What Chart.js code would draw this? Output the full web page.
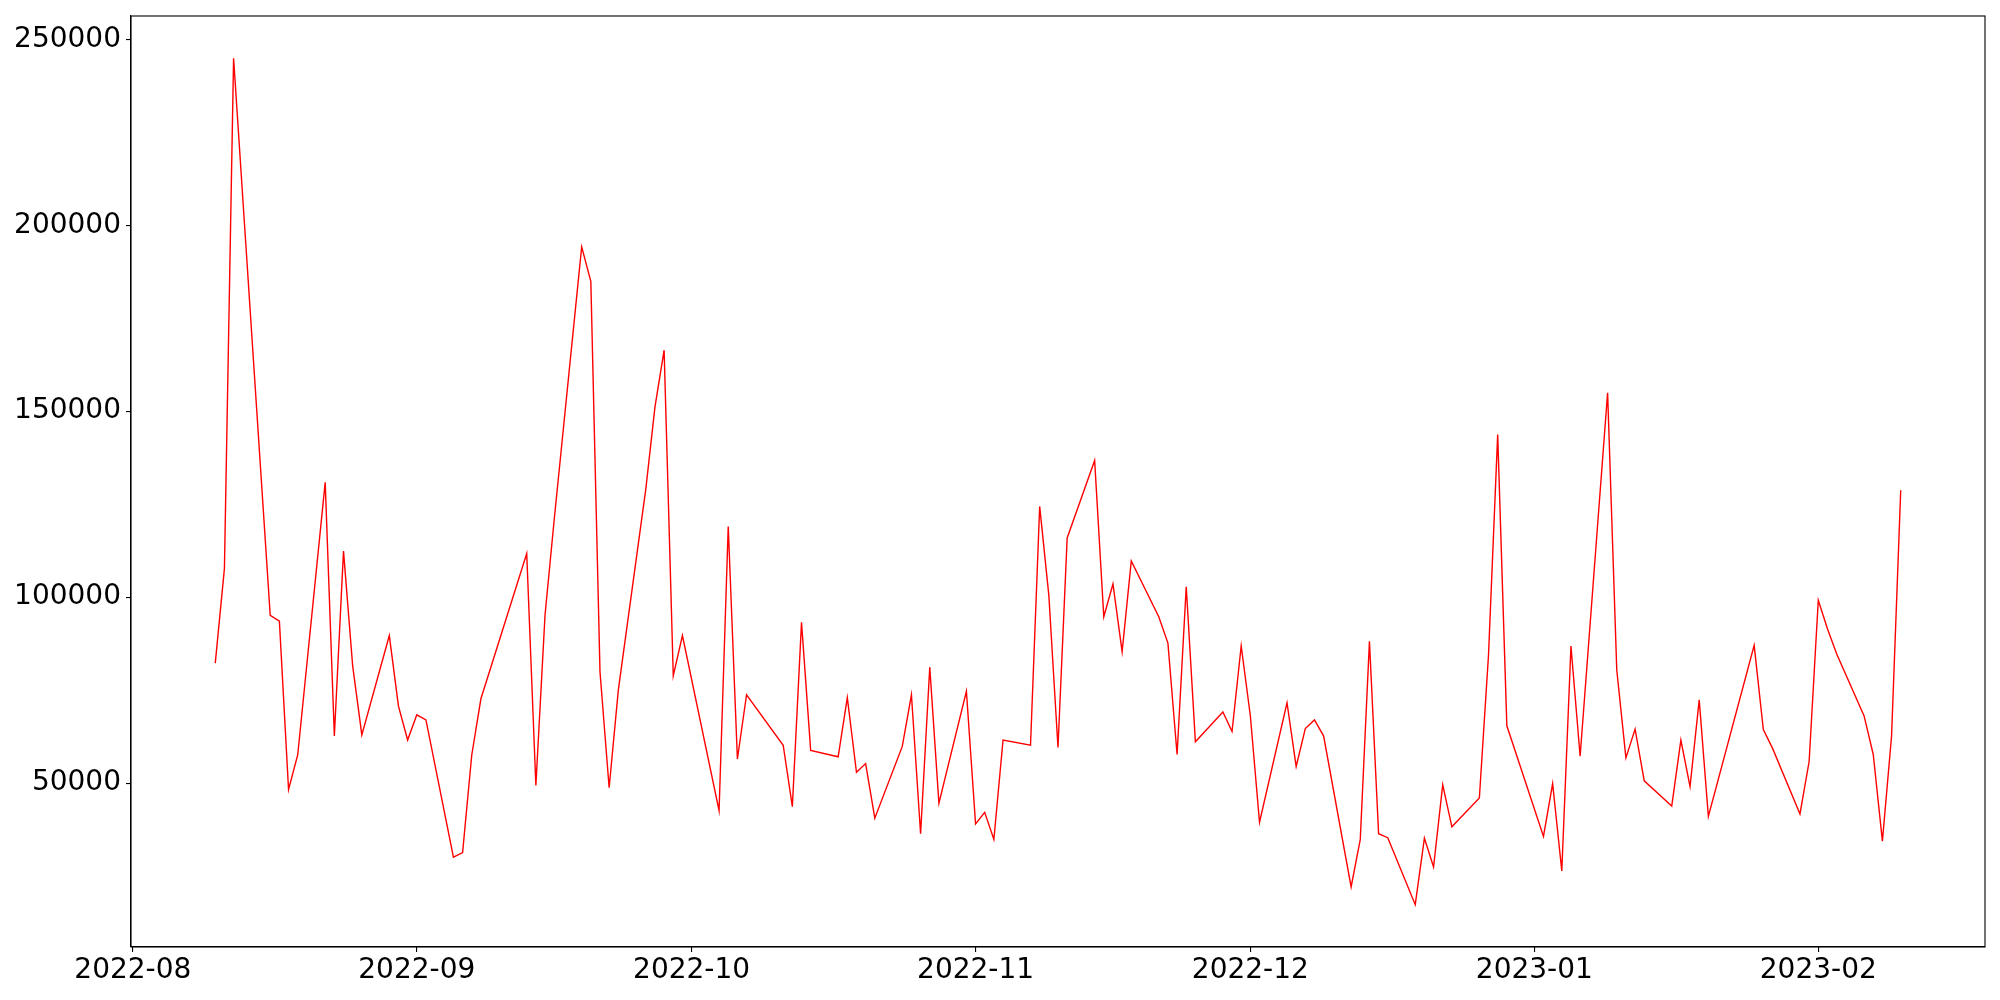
<!DOCTYPE html>
<html lang="en">

<head>
  <meta charset="utf-8">
  <title>Daily series</title>
  <script src="https://cdn.jsdelivr.net/npm/chart.js@4.4.1/dist/chart.umd.min.js"></script>
  <style>
    html, body { margin: 0; padding: 0; background: #fff; }
    #wrap { width: 2000px; height: 1000px; }
  </style>
</head>

<body>
  <div id="wrap"><canvas id="myChart" width="2000" height="1000"></canvas></div>

  <script>
    // trading days and values
    var dates = [
      '2022-08-10', '2022-08-11', '2022-08-12', '2022-08-16', '2022-08-17', '2022-08-18', '2022-08-19',
      '2022-08-22', '2022-08-23', '2022-08-24', '2022-08-25', '2022-08-26', '2022-08-29', '2022-08-30',
      '2022-08-31', '2022-09-01', '2022-09-02', '2022-09-05', '2022-09-06', '2022-09-07', '2022-09-08',
      '2022-09-13', '2022-09-14', '2022-09-15', '2022-09-16', '2022-09-19', '2022-09-20', '2022-09-21',
      '2022-09-22', '2022-09-23', '2022-09-26', '2022-09-27', '2022-09-28', '2022-09-29', '2022-09-30',
      '2022-10-04', '2022-10-05', '2022-10-06', '2022-10-07', '2022-10-11', '2022-10-12', '2022-10-13',
      '2022-10-14', '2022-10-17', '2022-10-18', '2022-10-19', '2022-10-20', '2022-10-21', '2022-10-24',
      '2022-10-25', '2022-10-26', '2022-10-27', '2022-10-28', '2022-10-31', '2022-11-01', '2022-11-02',
      '2022-11-03', '2022-11-04', '2022-11-07', '2022-11-08', '2022-11-09', '2022-11-10', '2022-11-11',
      '2022-11-14', '2022-11-15', '2022-11-16', '2022-11-17', '2022-11-18', '2022-11-21', '2022-11-22',
      '2022-11-23', '2022-11-24', '2022-11-25', '2022-11-28', '2022-11-29', '2022-11-30', '2022-12-01',
      '2022-12-02', '2022-12-05', '2022-12-06', '2022-12-07', '2022-12-08', '2022-12-09', '2022-12-12',
      '2022-12-13', '2022-12-14', '2022-12-15', '2022-12-16', '2022-12-19', '2022-12-20', '2022-12-21',
      '2022-12-22', '2022-12-23', '2022-12-26', '2022-12-27', '2022-12-28', '2022-12-29', '2023-01-02',
      '2023-01-03', '2023-01-04', '2023-01-05', '2023-01-06', '2023-01-09', '2023-01-10', '2023-01-11',
      '2023-01-12', '2023-01-13', '2023-01-16', '2023-01-17', '2023-01-18', '2023-01-19', '2023-01-20',
      '2023-01-25', '2023-01-26', '2023-01-27', '2023-01-30', '2023-01-31', '2023-02-01', '2023-02-02',
      '2023-02-03', '2023-02-06', '2023-02-07', '2023-02-08', '2023-02-09', '2023-02-10'
    ];
    var values = [
      82250, 107720, 244900, 95080, 93520, 48280, 57560,
      130880, 62670, 112370, 81500, 62940, 89670, 70680,
      61570, 68370, 66970, 30070, 31310, 57560, 72670,
      111750, 49360, 95200, 120800, 194200, 184900, 79940,
      48740, 74990, 129050, 151100, 166410, 78860, 89670,
      42580, 118990, 56480, 73750, 60170, 43650, 93220,
      58800, 57070, 73000, 52910, 55250, 40560, 59870,
      73750, 36390, 81170, 44590, 74690, 39030, 42120,
      34860, 61570, 60170, 124400, 100480, 59550, 115920,
      136770, 94750, 103550, 85340, 109740, 94750, 87650,
      57690, 102800, 61110, 69120, 63880, 86870, 68050,
      39480, 71600, 54470, 64660, 66970, 62650, 22060,
      34860, 88110, 36390, 35320, 17300, 35160, 27430,
      49520, 38250, 45970, 84500, 143710, 65410, 35640,
      49840, 26360, 86870, 57230, 154980, 80420, 56780,
      64500, 50590, 43810, 61570, 49060, 72380, 41020,
      87040, 64400, 59400, 41700, 55800, 99150, 91500,
      84800, 68050, 57690, 34400, 62650, 128730
    ];
    var monthTicks = ['2022-08', '2022-09', '2022-10', '2022-11', '2022-12', '2023-01', '2023-02'];
    var yTicks = [50000, 100000, 150000, 200000, 250000];

    function toMs(s) {
      var p = s.split('-');
      return Date.UTC(+p[0], +p[1] - 1, p[2] ? +p[2] : 1);
    }

    var points = [];
    for (var i = 0; i < dates.length; i++) {
      points.push({ x: toMs(dates[i]), y: values[i] });
    }

    // 5% margins like the original plot
    var xMin = points[0].x, xMax = points[points.length - 1].x;
    var xPad = (xMax - xMin) * 0.05;
    var yMin = Math.min.apply(null, values), yMax = Math.max.apply(null, values);
    var yPad = (yMax - yMin) * 0.05;

    var font = { family: 'DejaVu Sans', size: 28 };

    // box around the plot area
    const frame = {
      id: 'frame',
      afterDraw(chart) {
        var a = chart.chartArea, ctx = chart.ctx;
        ctx.save();
        ctx.strokeStyle = '#000';
        ctx.lineWidth = 1.1;
        ctx.strokeRect(a.left, a.top, a.right - a.left, a.bottom - a.top);
        ctx.restore();
      }
    };

    var ctx = document.getElementById('myChart');
    var myChart = new Chart(ctx, {
      type: 'line',
      data: {
        datasets: [{
          data: points,
          borderColor: '#ff0000',
          borderWidth: 1.4,
          pointRadius: 0,
          tension: 0,
          fill: false
        }]
      },
      options: {
        responsive: false,
        animation: false,
        layout: { padding: { top: 16, right: 15, left: 0, bottom: 0 } },
        plugins: { legend: { display: false }, tooltip: { enabled: false } },
        scales: {
          x: {
            type: 'linear',
            min: xMin - xPad,
            max: xMax + xPad,
            afterBuildTicks: function (scale) {
              scale.ticks = monthTicks.map(function (m) { return { value: toMs(m) }; });
            },
            afterFit: function (scale) {
              scale.height = 53;
              scale.paddingLeft = 0;
              scale.paddingRight = 0;
            },
            grid: { drawOnChartArea: false, drawTicks: true, tickLength: 5, color: '#000', lineWidth: 1.1 },
            border: { display: true, color: '#000', width: 1.1 },
            ticks: {
              autoSkip: false,
              maxRotation: 0,
              padding: 2,
              color: '#000',
              font: font,
              callback: function (v, idx) { return monthTicks[idx]; }
            }
          },
          y: {
            type: 'linear',
            min: yMin - yPad,
            max: yMax + yPad,
            afterBuildTicks: function (scale) {
              scale.ticks = yTicks.map(function (v) { return { value: v }; });
            },
            afterFit: function (scale) {
              scale.width = 131;
              scale.paddingTop = 0;
              scale.paddingBottom = 0;
            },
            grid: { drawOnChartArea: false, drawTicks: true, tickLength: 5, color: '#000', lineWidth: 1.1 },
            border: { display: true, color: '#000', width: 1.1 },
            ticks: {
              padding: 5,
              color: '#000',
              font: font,
              callback: function (v) { return String(v); }
            }
          }
        }
      },
      plugins: [frame]
    });
  </script>
</body>

</html>
